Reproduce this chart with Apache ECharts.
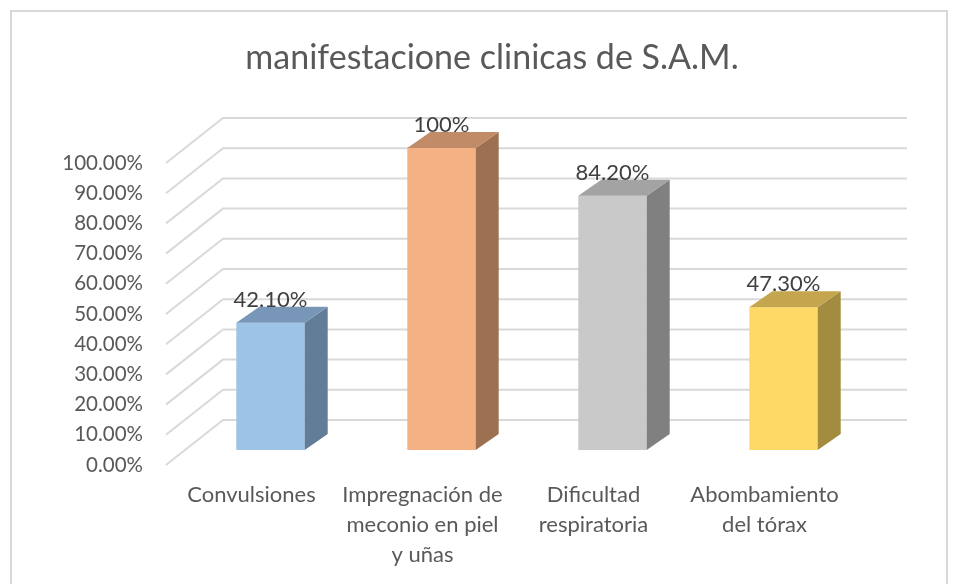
<!DOCTYPE html>
<html>
<head>
<meta charset="utf-8">
<script src="https://cdn.jsdelivr.net/npm/echarts@6/dist/echarts.min.js"></script>
<style>html,body{margin:0;padding:0;background:#fff}#c{width:958px;height:584px}</style>
</head>
<body>
<div id="c"></div>
<script>
const categories = ['Convulsiones', 'Impregnación de\nmeconio en piel\ny uñas', 'Dificultad\nrespiratoria', 'Abombamiento\ndel tórax'];
const values = [42.1, 100, 84.2, 47.3];
const valueLabels = ['42.10%', '100%', '84.20%', '47.30%'];
const yTicks = [0, 10, 20, 30, 40, 50, 60, 70, 80, 90, 100];
const frontColors = ['#9dc3e6', '#f4b183', '#c9c9c9', '#ffd966'];
const sideColors = ['#627d98', '#9c7051', '#808080', '#a38b3f'];
const topColors = ['#7896b8', '#c08b66', '#a3a3a3', '#c4a64e'];

const FONT = 'Lato';
const DX = 23, DY = 16;      // bar depth offset
const chart = echarts.init(document.getElementById('c'));

chart.setOption({
  animation: false,
  title: {
    text: 'manifestacione clinicas de S.A.M.',
    left: 487, top: 36, textAlign: 'center',
    textStyle: { fontFamily: FONT, fontSize: 34, fontWeight: 'normal', color: '#595959' }
  },
  graphic: [{
    type: 'rect', shape: { x: 11, y: 11, width: 936, height: 574 },
    style: { fill: 'none', stroke: '#d9d9d9', lineWidth: 2 }, silent: true
  }],
  grid: [
    { left: 185, right: 89, top: 148, bottom: 134 },
    { left: 166, right: 108, top: 163, bottom: 119 }
  ],
  xAxis: [
    { type: 'category', gridIndex: 0, data: categories, show: false },
    { type: 'category', gridIndex: 1, data: categories,
      axisLine: { show: false }, axisTick: { show: false },
      axisLabel: { fontFamily: FONT, fontSize: 22, color: '#595959', lineHeight: 30, margin: 15, interval: 0 } }
  ],
  yAxis: [
    { type: 'value', gridIndex: 0, min: 0, max: 100, interval: 10, show: false },
    { type: 'value', gridIndex: 1, min: 0, max: 100, interval: 10,
      axisLine: { show: false }, axisTick: { show: false }, splitLine: { show: false },
      axisLabel: { fontFamily: FONT, fontSize: 20.5, color: '#595959', margin: 23,
        formatter: v => v.toFixed(2) + '%' } }
  ],
  series: [
    {
      type: 'custom', xAxisIndex: 0, yAxisIndex: 0, silent: true,
      data: yTicks.map(v => [0, v]),
      renderItem: function (params, api) {
        const cs = params.coordSys;
        const y = api.coord([0, api.value(1)])[1];
        return {
          type: 'polyline',
          shape: { points: [[cs.x - 19, y + 15], [cs.x + 38, y - 30], [cs.x + cs.width + 38, y - 30]] },
          style: { stroke: '#d9d9d9', lineWidth: 2, fill: null }
        };
      }
    },
    {
      type: 'custom', xAxisIndex: 0, yAxisIndex: 0, silent: true,
      data: values.map((v, i) => [i, v]),
      renderItem: function (params, api) {
        const i = api.value(0);
        const top = api.coord([i, api.value(1)]);
        const bot = api.coord([i, 0]);
        const bw = api.size([1, 0])[0] * 0.4;
        const x0 = top[0] - bw / 2, x1 = top[0] + bw / 2;
        const yt = top[1], yb = bot[1];
        return {
          type: 'group',
          children: [
            { type: 'rect', shape: { x: x0, y: yt, width: bw, height: yb - yt }, style: { fill: frontColors[i] } },
            { type: 'polygon', shape: { points: [[x1, yt], [x1 + DX, yt - DY], [x1 + DX, yb - DY], [x1, yb]] }, style: { fill: sideColors[i] } },
            { type: 'polygon', shape: { points: [[x0, yt], [x0 + DX, yt - DY], [x1 + DX, yt - DY], [x1, yt]] }, style: { fill: topColors[i] } },
            { type: 'text', x: top[0], y: yt - DY - 7,
              style: { text: valueLabels[i], fontFamily: FONT, fontSize: 22, fill: '#404040', align: 'center', verticalAlign: 'middle' } }
          ]
        };
      }
    }
  ]
});
</script>
</body>
</html>
